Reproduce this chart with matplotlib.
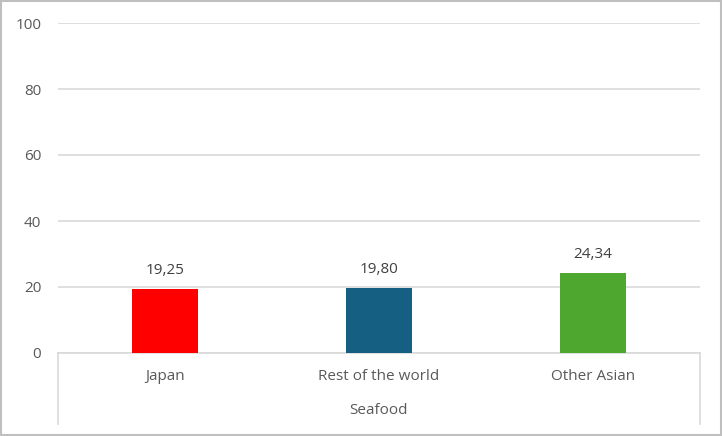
import matplotlib.pyplot as plt
from matplotlib.lines import Line2D
from matplotlib.patches import Rectangle

categories = ["Japan", "Rest of the world", "Other Asian"]
values = [19.25, 19.80, 24.34]
colors = ["#ff0000", "#156082", "#4ea72e"]
group = "Seafood"
yticks = [0, 20, 40, 60, 80, 100]

plt.rcParams['font.family'] = ['Open Sans', 'DejaVu Sans']
txt = "#595959"
grid = "#d9d9d9"

fig = plt.figure(figsize=(7.22, 4.36), dpi=100)
W, H = 722, 436
# plot area in pixels: x 58..700, y 23..353 (from top)
ax = fig.add_axes([58 / W, 1 - 353 / H, 642 / W, 330 / H])

x = range(len(categories))
ax.bar(x, values, width=0.31, color=colors, zorder=3)
for i, v in zip(x, values):
    ax.annotate(f"{v:.2f}".replace(".", ","), (i, v), xytext=(0, 8),
                textcoords="offset points", ha="center", va="bottom",
                fontsize=11, color="#404040")

ax.set_xlim(-0.5, len(categories) - 0.5)
ax.set_ylim(0, 100)
ax.set_yticks(yticks)
ax.yaxis.grid(True, color=grid, lw=1.2, zorder=0)
ax.tick_params(axis="y", length=0, labelsize=11, labelcolor=txt, pad=12)
ax.set_xticks([])
for s in ["top", "right", "left"]:
    ax.spines[s].set_visible(False)
ax.spines["bottom"].set_color(grid)
ax.spines["bottom"].set_linewidth(1.2)

# category labels and group box below the axis
for i, c in zip(x, categories):
    fig.text((58 + 214 * (i + 0.5)) / W, 1 - 376 / H, c, ha="center",
             va="center", fontsize=11, color=txt)
fig.text((58 + 321) / W, 1 - 410 / H, group, ha="center", va="center",
         fontsize=11, color=txt)
for px in [58, 700]:
    fig.add_artist(Line2D([px / W, px / W], [1 - 353 / H, 1 - 424 / H],
                          color=grid, lw=1.2))

# outer chart frame
fig.add_artist(Rectangle((0.5 / W, 1.5 / H), 720 / W, 433 / H, fill=False,
                         edgecolor="#bfbfbf", lw=1.5, transform=fig.transFigure))

fig.savefig("out.png", dpi=100)
